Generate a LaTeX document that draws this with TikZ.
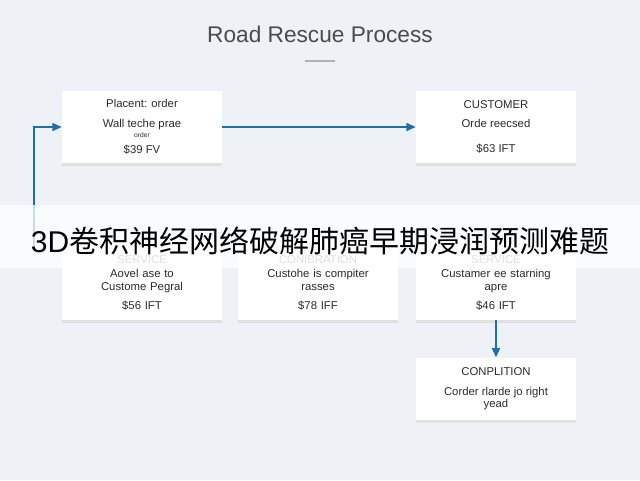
\documentclass[tikz,border=0pt]{standalone}
\usepackage{fontspec}
\setmainfont{Liberation Sans}
\newfontfamily\cjk{Noto Sans CJK SC}
\usetikzlibrary{arrows.meta}
\definecolor{bg}{HTML}{EEF1F5}
\definecolor{ink}{HTML}{2B2B2B}
\definecolor{flow}{HTML}{1F6FA8}
\begin{document}
\begin{tikzpicture}[x=0.75pt,y=-0.75pt,
 box/.style={draw=none,fill=white,minimum width=120pt,align=center,text=ink,font=\fontsize{8.5}{9.5}\selectfont,inner sep=0pt},
 conn/.style={draw=flow,line width=1.3pt,-{Triangle[length=7pt,width=6pt]}}]
\fill[bg] (0,0) rectangle (640,480);
\useasboundingbox (0,0) rectangle (640,480);
\node[text=ink!85,font=\fontsize{17}{19}\selectfont] (title) at (320,34) {Road Rescue Process};
\draw[gray!60,line width=0.8pt] (305,61) -- (335,61);
\foreach \x/\ya/\yb in {142/91/163,496/91/163,142/240/320,318/240/320,496/240/320,496/357/420}{
 \fill[black!12] (\x-80,\ya+3) rectangle (\x+80,\yb+3);}
\node[box,minimum height=54pt] (a) at (142,127) {Placent: order\\[5pt]Wall teche prae\\[-2pt]{\tiny order}\\[3pt]\$39 FV};
\node[box,minimum height=54pt] (b) at (496,127) {CUSTOMER\\[5pt]Orde reecsed\\[9pt]\$63 IFT};
\node[box,minimum height=60pt] (c) at (142,280) {};
\node[box,minimum height=60pt] (d) at (318,280) {};
\node[box,minimum height=60pt] (e) at (496,280) {};
\node[box,anchor=south,text width=120pt] (ct) at (142,311) {\textcolor{gray}{SERVICE}\\[1pt]Aovel ase to\\Custome Pegral\\[5pt]\$56 IFT};
\node[box,anchor=south,text width=120pt] (dt) at (318,311) {\textcolor{gray}{CONIBRATION}\\[1pt]Custohe is compiter\\rasses\\[5pt]\$78 IFF};
\node[box,anchor=south,text width=120pt] (et) at (496,311) {\textcolor{gray}{SERVICE}\\[1pt]Custamer ee starning\\apre\\[5pt]\$46 IFT};
\node[box,minimum height=47pt] (f) at (496,389) {CONPLITION\\[5pt]Corder rlarde jo right\\yead};
\coordinate (s) at (34,250);
\draw[conn] (s) |- (a.west);
\draw[conn] (a.east) -- (b.west);
\draw[conn] (e.south) -- (f.north);
\fill[white,opacity=0.75] (0,205) rectangle (640,268);
\node[text=black,font=\fontsize{22.5}{24}\selectfont] (banner) at (320,241) {3D{\cjk 卷积神经网络破解肺癌早期浸润预测难题}};
\end{tikzpicture}
\end{document}
